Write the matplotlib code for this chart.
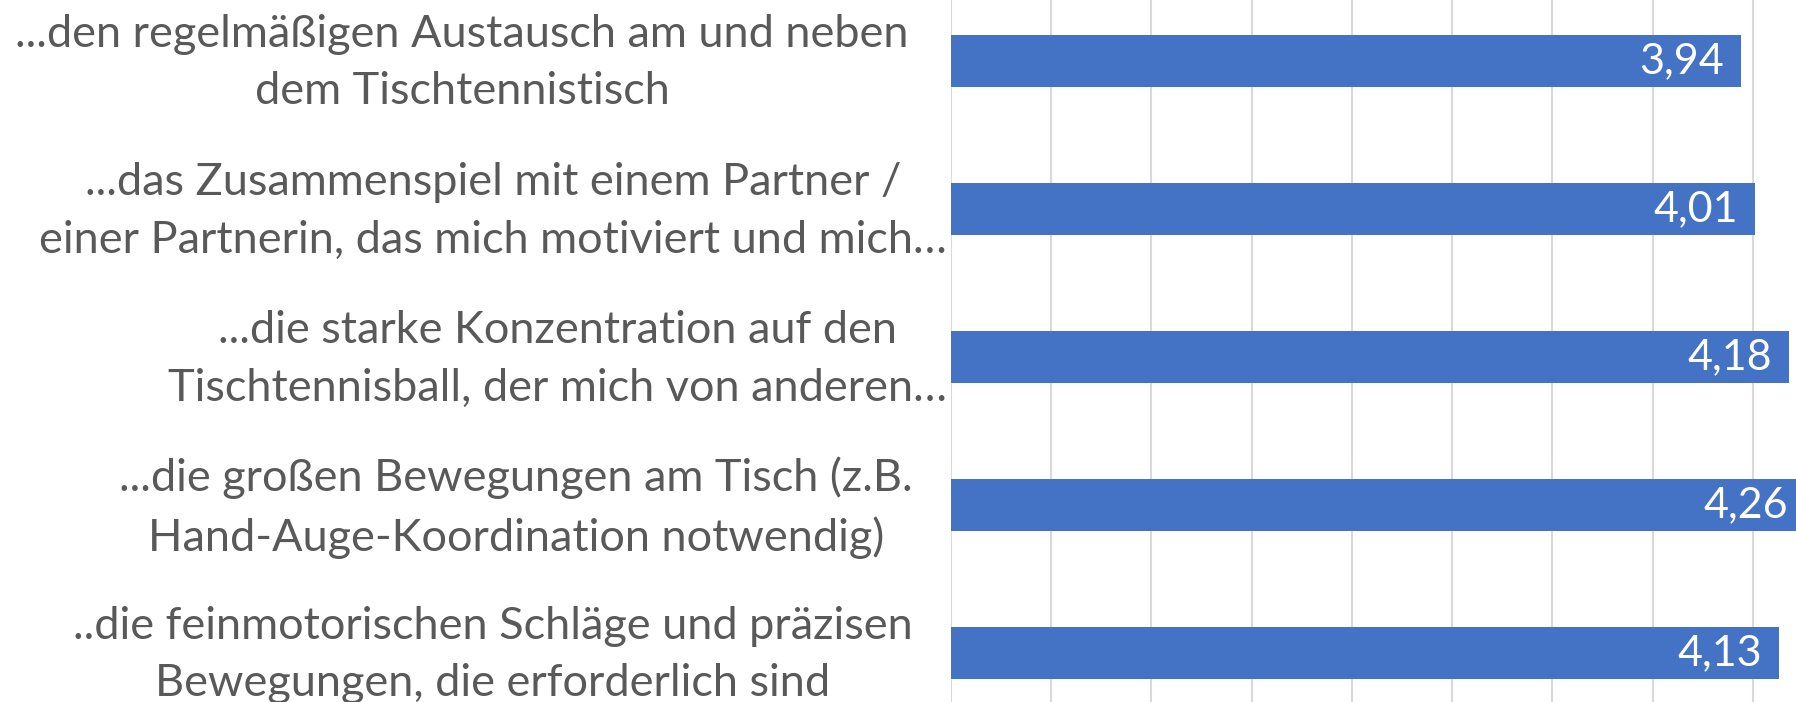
import matplotlib.pyplot as plt
import matplotlib.transforms as mtransforms

# Kategorien (von oben nach unten) und Mittelwerte
kategorien = [
    "...den regelmäßigen Austausch am und neben\ndem Tischtennistisch",
    "...das Zusammenspiel mit einem Partner /\neiner Partnerin, das mich motiviert und mich…",
    "...die starke Konzentration auf den\nTischtennisball, der mich von anderen…",
    "...die großen Bewegungen am Tisch (z.B.\nHand-Auge-Koordination notwendig)",
    "..die feinmotorischen Schläge und präzisen\nBewegungen, die erforderlich sind",
]
mittelwerte = [3.94, 4.01, 4.18, 4.26, 4.13]

plt.rcParams['font.family'] = ['Lato', 'DejaVu Sans']

W, H = 1796, 702
fig = plt.figure(figsize=(W / 100, H / 100), dpi=100)
# Diagrammbereich ist im Original rechts/oben/unten abgeschnitten
ax = fig.add_axes([951 / W, -25 / H, 902 / W, 740 / H])

pos = list(range(len(kategorien)))
ax.barh(pos, mittelwerte, height=0.355, color='#4472C4', zorder=2)

for y, v in zip(pos, mittelwerte):
    ax.annotate(f"{v:.2f}".replace('.', ','), xy=(v, y), xytext=(-17, 0),
                textcoords='offset pixels', ha='right', va='center',
                color='white', fontsize=31, zorder=3)

ax.set_xlim(0, 4.5)
ax.set_ylim(len(kategorien) - 0.5, -0.5)
ax.set_xticks([i * 0.5 for i in range(10)])
ax.set_xticklabels([])
ax.set_yticks(pos)
ax.set_yticklabels(kategorien, ma='center', fontsize=32.5, color='#595959',
                   linespacing=1.5)
ax.tick_params(axis='both', length=0)
ax.tick_params(axis='y', pad=3)

# Excel richtet die umbrochenen Beschriftungen nicht ganz bündig aus
versatz_px = [-38, 0, 0, -34, -34]
for lbl, dx in zip(ax.get_yticklabels(), versatz_px):
    lbl.set_transform(lbl.get_transform() +
                      mtransforms.ScaledTranslation(dx / 100, 10 / 100, fig.dpi_scale_trans))

ax.grid(axis='x', color='#D9D9D9', linewidth=1.5, zorder=0)
ax.set_axisbelow(True)
for s in ax.spines.values():
    s.set_visible(False)

fig.savefig('out.png', dpi=100)
